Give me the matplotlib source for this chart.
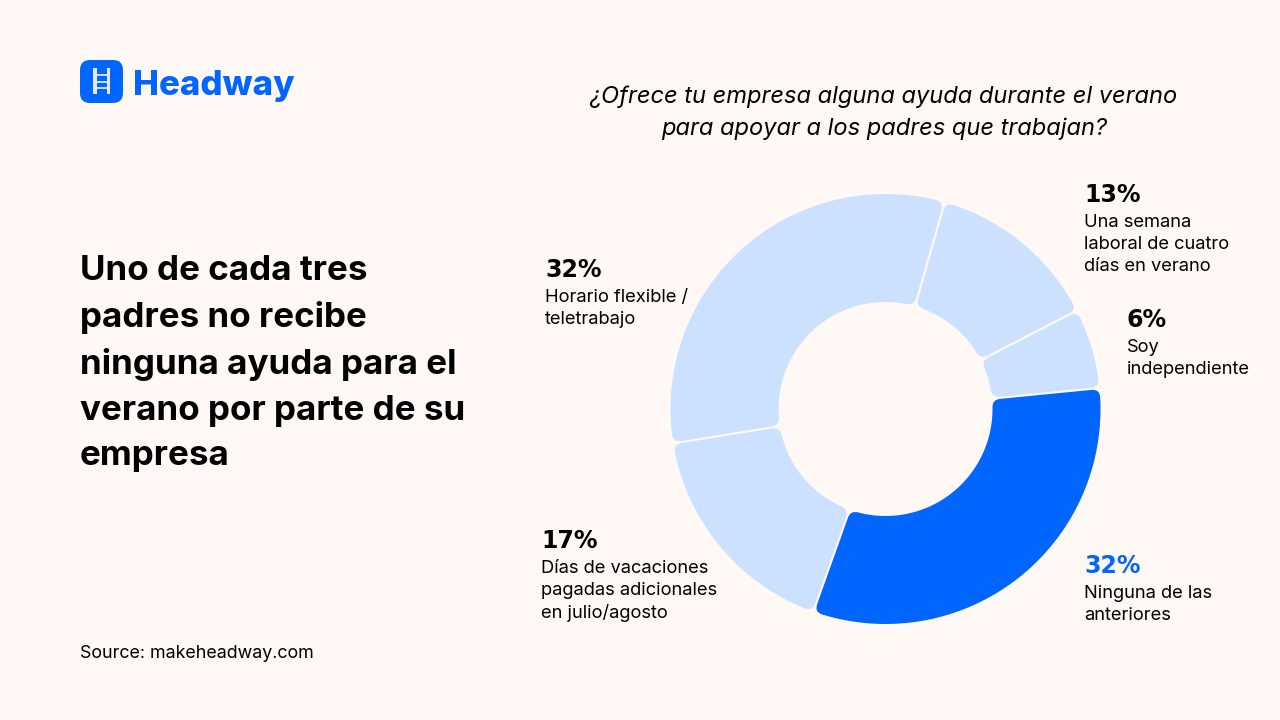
import matplotlib
matplotlib.use("Agg")
import matplotlib.pyplot as plt
import numpy as np
from matplotlib.patches import FancyBboxPatch, PathPatch, Rectangle
from matplotlib.path import Path

categories = ["Una semana\nlaboral de cuatro\ndías en verano", "Soy\nindependiente",
              "Ninguna de las\nanteriores", "Días de vacaciones\npagadas adicionales\nen julio/agosto",
              "Horario flexible /\nteletrabajo"]
values = [13, 6, 32, 17, 32]
highlight = "Ninguna de las\nanteriores"
label_x = [1084, 1127, 1084, 541, 545]
label_y = [195, 320, 566, 541, 270]

BG = "#FFF8F5"
BLUE = "#0066FF"
LIGHT = "#CCE0FF"
BODY = "Inter"

cx, cy = 885.5, 409
r_out, r_in = 215, 107
gap = 2.2
corner = 8
start = 16


def polar(r, a):
    return cx + r * np.sin(a), cy - r * np.cos(a)


def sector(a0, a1):
    # annular sector with parallel gaps and rounded corners
    a0, a1 = np.radians(a0), np.radians(a1)
    side = lambda r: np.arcsin(gap / 2 / r)
    verts, codes = [], []

    def arc(r, s, e):
        for a in np.linspace(s, e, 60):
            verts.append(polar(r, a))
            codes.append(Path.LINETO)

    def curve(ctrl, end):
        verts.extend([ctrl, end])
        codes.extend([Path.CURVE3, Path.CURVE3])

    arc(r_out, a0 + side(r_out) + corner / r_out, a1 - side(r_out) - corner / r_out)
    codes[0] = Path.MOVETO
    curve(polar(r_out, a1 - side(r_out)), polar(r_out - corner, a1 - side(r_out - corner)))
    verts.append(polar(r_in + corner, a1 - side(r_in + corner)))
    codes.append(Path.LINETO)
    curve(polar(r_in, a1 - side(r_in)), polar(r_in, a1 - side(r_in) - corner / r_in))
    arc(r_in, a1 - side(r_in) - corner / r_in, a0 + side(r_in) + corner / r_in)
    curve(polar(r_in, a0 + side(r_in)), polar(r_in + corner, a0 + side(r_in + corner)))
    verts.append(polar(r_out - corner, a0 + side(r_out - corner)))
    codes.append(Path.LINETO)
    curve(polar(r_out, a0 + side(r_out)), verts[0])
    verts.append(verts[0])
    codes.append(Path.CLOSEPOLY)
    return Path(verts, codes)


fig = plt.figure(figsize=(12.8, 7.2), dpi=100, facecolor=BG)
ax = fig.add_axes([0, 0, 1, 1])
ax.set_xlim(0, 1280)
ax.set_ylim(720, 0)
ax.axis("off")

# donut
edges = start + np.cumsum([0] + values) / sum(values) * 360
for i, name in enumerate(categories):
    color = BLUE if name == highlight else LIGHT
    ax.add_patch(PathPatch(sector(edges[i], edges[i + 1]), fc=color, ec="none"))
    ax.text(label_x[i], label_y[i], f"{values[i]}%", family="DejaVu Sans", weight="bold",
            fontsize=17, color=BLUE if name == highlight else "black", va="center")
    ax.text(label_x[i], label_y[i] + 19, name, family=BODY, fontsize=13.2, color="black",
            va="top", linespacing=1.38)

# logo
ax.add_patch(FancyBboxPatch((88, 68), 27, 27, boxstyle="round,pad=8,rounding_size=10", fc=BLUE, ec="none"))
ax.add_patch(Rectangle((93, 68), 3.5, 26, fc=BG, ec="none", alpha=0.9))
ax.add_patch(Rectangle((106.5, 68), 3.5, 26, fc=BG, ec="none", alpha=0.9))
for y in (74, 80.5, 87):
    ax.add_patch(Rectangle((96.5, y), 10, 2.2, fc=BG, ec="none", alpha=0.8))
ax.text(133, 86.5, "Headway", family=BODY, weight="heavy", fontsize=25, color=BLUE, va="center")

# title, question, source
ax.text(80, 363.5, "Uno de cada tres\npadres no recibe\nninguna ayuda para el\nverano por parte de su\nempresa",
        family=BODY, weight="bold", fontsize=25.2, color="black", va="center", linespacing=1.545)
ax.text(884, 112.5, "¿Ofrece tu empresa alguna ayuda durante el verano\npara apoyar a los padres que trabajan?",
        family=BODY, style="italic", fontsize=17.05, color="black", ha="center", va="center", linespacing=1.55)
ax.text(80, 654, "Source: makeheadway.com", family=BODY, fontsize=12.85, color="black", va="center")

fig.savefig("out.png", dpi=100, facecolor=BG)
